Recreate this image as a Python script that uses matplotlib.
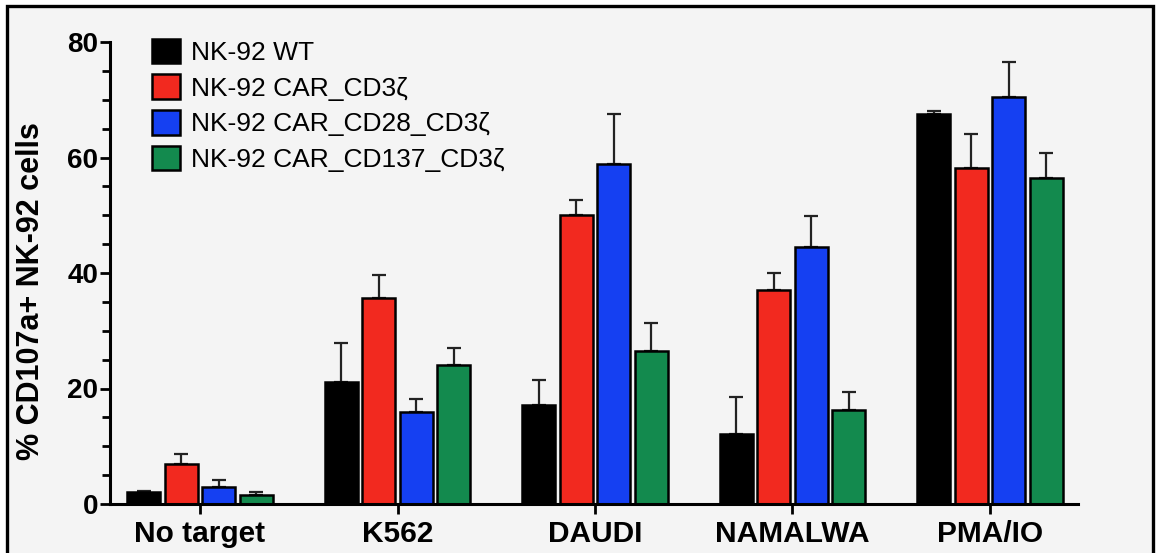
import matplotlib
matplotlib.use("Agg")
import matplotlib.pyplot as plt
import numpy as np
from matplotlib.ticker import MultipleLocator

categories = ["No target", "K562", "DAUDI", "NAMALWA", "PMA/IO"]
series = ["NK-92 WT", "NK-92 CAR_CD3ζ", "NK-92 CAR_CD28_CD3ζ", "NK-92 CAR_CD137_CD3ζ"]
wt = [2.0, 21.2, 17.2, 12.2, 67.5]
wt_err = [0.3, 6.6, 4.3, 6.4, 0.6]
cd3z = [7.0, 35.7, 50.0, 37.0, 58.2]
cd3z_err = [1.7, 3.9, 2.6, 3.0, 5.8]
cd28 = [3.0, 16.0, 58.8, 44.5, 70.5]
cd28_err = [1.1, 2.2, 8.7, 5.3, 6.0]
cd137 = [1.5, 24.0, 26.5, 16.3, 56.4]
cd137_err = [0.5, 3.0, 4.8, 3.1, 4.3]
colors = ["#000000", "#f2291f", "#1540f2", "#138a4e"]

plt.rcParams["font.family"] = ["Liberation Sans", "DejaVu Sans"]

W, H = 1157, 553
fig = plt.figure(figsize=(W / 100, H / 100), dpi=100, facecolor="white")

# light panel with a black frame (open at the bottom edge of the picture)
panel = plt.Rectangle((7 / W, -0.02), (1153 - 7) / W, 1.02 - 6 / H,
                      transform=fig.transFigure, facecolor="#f4f4f4",
                      edgecolor="black", linewidth=2.4, zorder=-10)
fig.patches.append(panel)

ax = fig.add_axes([110 / W, 1 - 504 / H, (1078 - 110) / W, (504 - 42) / H])
ax.patch.set_alpha(0)

x = np.arange(len(categories))
pitch = 0.19
width = 0.167
vals = [wt, cd3z, cd28, cd137]
errs = [wt_err, cd3z_err, cd28_err, cd137_err]
for i, (v, e, c, name) in enumerate(zip(vals, errs, colors, series)):
    pos = x + (i - 1.5) * pitch
    ax.bar(pos, v, width=width, color=c, edgecolor="black", linewidth=1.8,
           label=name, zorder=2)
    ax.errorbar(pos, v, yerr=[np.zeros(len(e)), e], fmt="none", ecolor="#222222",
                elinewidth=1.6, capsize=5, capthick=1.6, zorder=1)

ax.set_xlim(-0.456, 4.446)
ax.set_ylim(0, 80)
ax.set_xticks(x)
ax.set_xticklabels(categories, fontsize=21.5, fontweight="bold")
ax.yaxis.set_major_locator(MultipleLocator(20))
ax.yaxis.set_minor_locator(MultipleLocator(5))
ax.tick_params(axis="y", which="major", length=7.5, width=2, labelsize=20, pad=1)
ax.tick_params(axis="y", which="minor", length=6, width=2)
ax.tick_params(axis="x", length=7.5, width=2, pad=4)
for lab in ax.get_yticklabels():
    lab.set_fontweight("bold")
ax.set_ylabel("% CD107a+ NK-92 cells", fontsize=22, fontweight="bold")
ax.yaxis.set_label_coords(-0.066, 0.46)

for s in ["top", "right"]:
    ax.spines[s].set_visible(False)
for s in ["left", "bottom"]:
    ax.spines[s].set_linewidth(2.2)

leg = ax.legend(loc="upper left", bbox_to_anchor=(0.033, 1.03), frameon=False,
                fontsize=19, handlelength=1.05, handleheight=1.05,
                handletextpad=0.4, labelspacing=0.36, borderaxespad=0)

fig.savefig("out.png", dpi=100, facecolor=fig.get_facecolor())
